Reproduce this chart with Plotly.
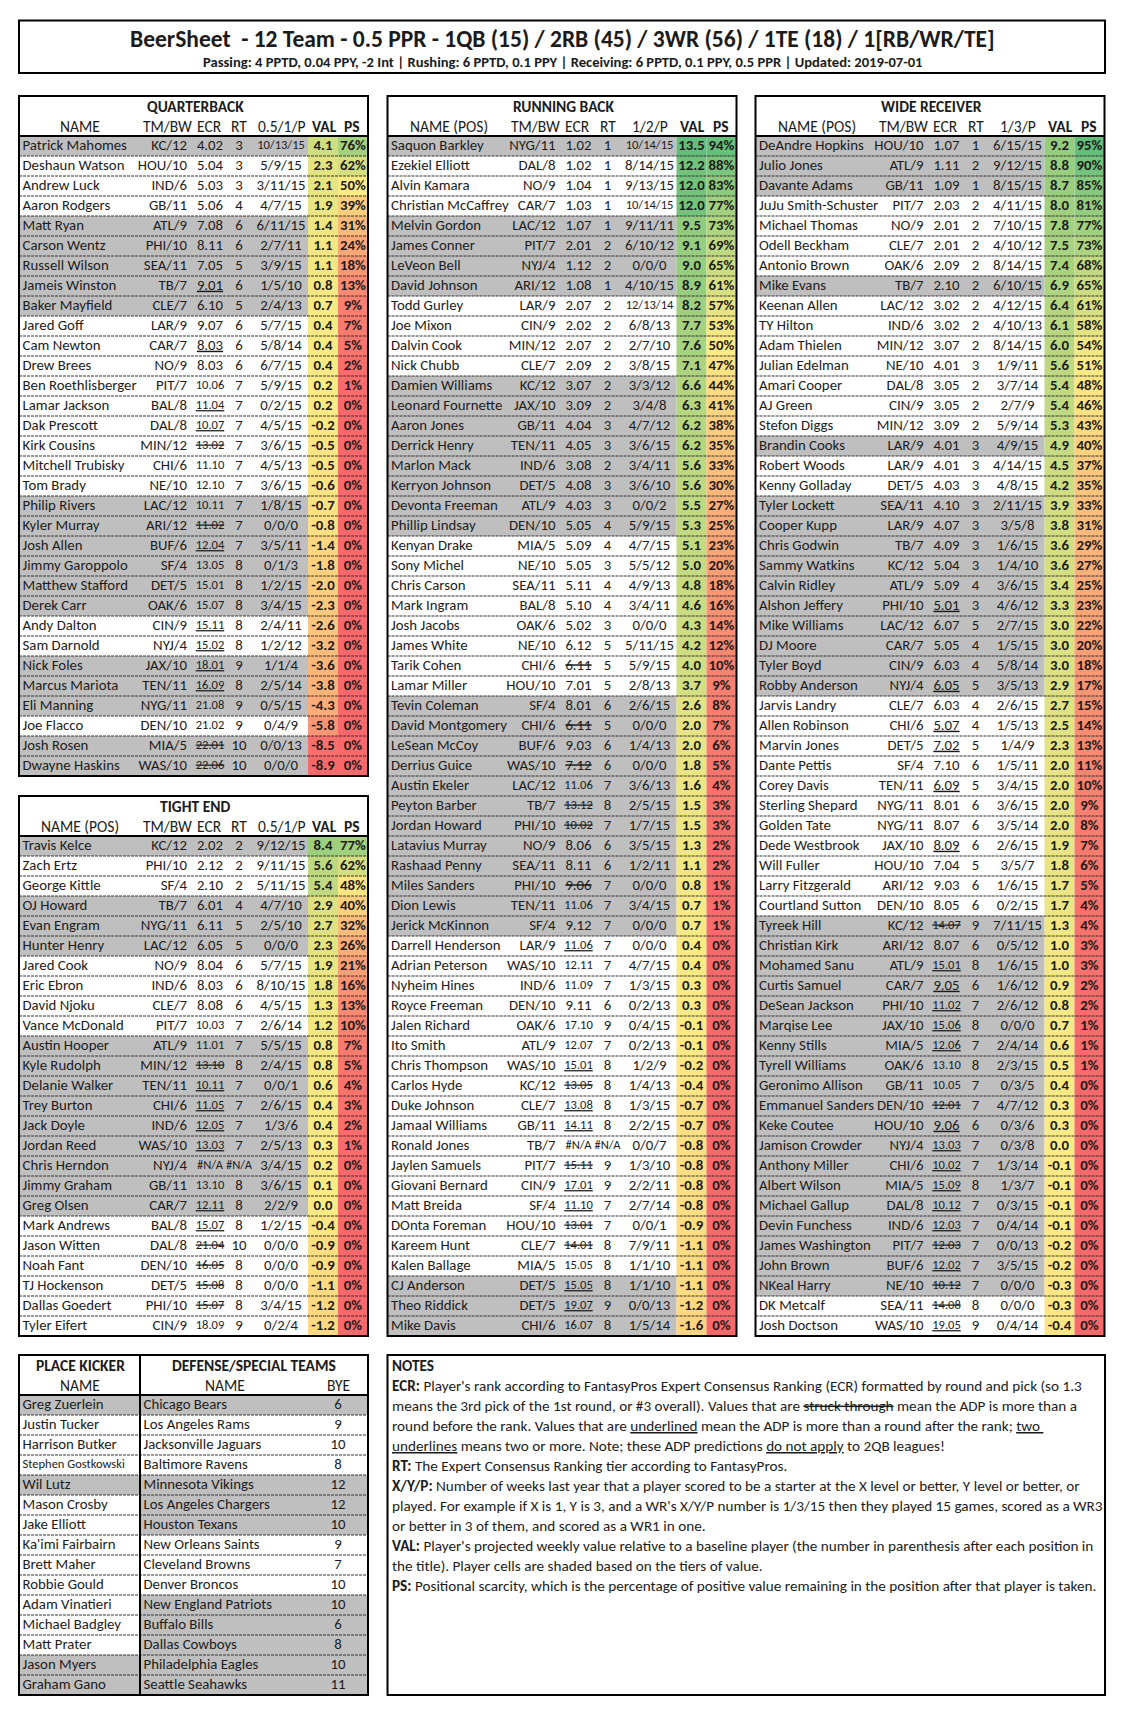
import plotly.graph_objects as go

# ---------------- data ----------------
title_text = "BeerSheet  - 12 Team - 0.5 PPR - 1QB (15) / 2RB (45) / 3WR (56) / 1TE (18) / 1[RB/WR/TE]"
subtitle_text = "Passing: 4 PPTD, 0.04 PPY, -2 Int | Rushing: 6 PPTD, 0.1 PPY | Receiving: 6 PPTD, 0.1 PPY, 0.5 PPR | Updated: 2019-07-01"

# adp flag: n = normal, s = ADP more than a round before rank (struck), u = ADP more than a round after (underlined)
# shaded: 1 = grey row
qb_names = ["Patrick Mahomes", "Deshaun Watson", "Andrew Luck", "Aaron Rodgers", "Matt Ryan", "Carson Wentz",
            "Russell Wilson", "Jameis Winston", "Baker Mayfield", "Jared Goff", "Cam Newton", "Drew Brees",
            "Ben Roethlisberger", "Lamar Jackson", "Dak Prescott", "Kirk Cousins", "Mitchell Trubisky", "Tom Brady",
            "Philip Rivers", "Kyler Murray", "Josh Allen", "Jimmy Garoppolo", "Matthew Stafford", "Derek Carr",
            "Andy Dalton", "Sam Darnold", "Nick Foles", "Marcus Mariota", "Eli Manning", "Joe Flacco", "Josh Rosen",
            "Dwayne Haskins"]
qb_teams = ["KC/12", "HOU/10", "IND/6", "GB/11", "ATL/9", "PHI/10", "SEA/11", "TB/7", "CLE/7", "LAR/9", "CAR/7",
            "NO/9", "PIT/7", "BAL/8", "DAL/8", "MIN/12", "CHI/6", "NE/10", "LAC/12", "ARI/12", "BUF/6", "SF/4",
            "DET/5", "OAK/6", "CIN/9", "NYJ/4", "JAX/10", "TEN/11", "NYG/11", "DEN/10", "MIA/5", "WAS/10"]
qb_ecr = ["4.02", "5.04", "5.03", "5.06", "7.08", "8.11", "7.05", "9.01", "6.10", "9.07", "8.03", "8.03", "10.06",
          "11.04", "10.07", "13.02", "11.10", "12.10", "10.11", "11.02", "12.04", "13.05", "15.01", "15.07", "15.11",
          "15.02", "18.01", "16.09", "21.08", "21.02", "22.01", "22.06"]
qb_adp = list("nnnnnnnu" "nnunnuus" "nnnsunnn" "uuuunnss")
qb_tier = ["3", "3", "3", "4", "6", "6", "5", "6", "5", "6", "6", "6", "7", "7", "7", "7", "7", "7", "7", "7", "7",
           "8", "8", "8", "8", "8", "9", "8", "9", "9", "10", "10"]
qb_xyp = ["10/13/15", "5/9/15", "3/11/15", "4/7/15", "6/11/15", "2/7/11", "3/9/15", "1/5/10", "2/4/13", "5/7/15",
          "5/8/14", "6/7/15", "5/9/15", "0/2/15", "4/5/15", "3/6/15", "4/5/13", "3/6/15", "1/8/15", "0/0/0",
          "3/5/11", "0/1/3", "1/2/15", "3/4/15", "2/4/11", "1/2/12", "1/1/4", "2/5/14", "0/5/15", "0/4/9",
          "0/0/13", "0/0/0"]
qb_val = [4.1, 2.3, 2.1, 1.9, 1.4, 1.1, 1.1, 0.8, 0.7, 0.4, 0.4, 0.4, 0.2, 0.2, -0.2, -0.5, -0.5, -0.6, -0.7, -0.8,
          -1.4, -1.8, -2.0, -2.3, -2.6, -3.2, -3.6, -3.8, -4.3, -5.8, -8.5, -8.9]
qb_ps = [76, 62, 50, 39, 31, 24, 18, 13, 9, 7, 5, 2, 1, 0, 0, 0, 0, 0, 0, 0, 0, 0, 0, 0, 0, 0, 0, 0, 0, 0, 0, 0]
qb_shaded = list("10001111" "10000000" "00111111" "00111011")

te_names = ["Travis Kelce", "Zach Ertz", "George Kittle", "OJ Howard", "Evan Engram", "Hunter Henry", "Jared Cook",
            "Eric Ebron", "David Njoku", "Vance McDonald", "Austin Hooper", "Kyle Rudolph", "Delanie Walker",
            "Trey Burton", "Jack Doyle", "Jordan Reed", "Chris Herndon", "Jimmy Graham", "Greg Olsen", "Mark Andrews",
            "Jason Witten", "Noah Fant", "TJ Hockenson", "Dallas Goedert", "Tyler Eifert"]
te_teams = ["KC/12", "PHI/10", "SF/4", "TB/7", "NYG/11", "LAC/12", "NO/9", "IND/6", "CLE/7", "PIT/7", "ATL/9",
            "MIN/12", "TEN/11", "CHI/6", "IND/6", "WAS/10", "NYJ/4", "GB/11", "CAR/7", "BAL/8", "DAL/8", "DEN/10",
            "DET/5", "PHI/10", "CIN/9"]
te_ecr = ["2.02", "2.12", "2.10", "6.01", "6.11", "6.05", "8.04", "8.03", "8.08", "10.03", "11.01", "13.10", "10.11",
          "11.05", "12.05", "13.03", "#N/A", "13.10", "12.11", "15.07", "21.04", "16.05", "15.08", "15.07", "18.09"]
te_adp = list("nnnnnnnn" "nnnsuuuu" "nnuussss" "n")
te_tier = ["2", "2", "2", "4", "5", "5", "6", "6", "6", "7", "7", "8", "7", "7", "7", "7", "#N/A", "8", "8", "8",
           "10", "8", "8", "8", "9"]
te_xyp = ["9/12/15", "9/11/15", "5/11/15", "4/7/10", "2/5/10", "0/0/0", "5/7/15", "8/10/15", "4/5/15", "2/6/14",
          "5/5/15", "2/4/15", "0/0/1", "2/6/15", "1/3/6", "2/5/13", "3/4/15", "3/6/15", "2/2/9", "1/2/15", "0/0/0",
          "0/0/0", "0/0/0", "3/4/15", "0/2/4"]
te_val = [8.4, 5.6, 5.4, 2.9, 2.7, 2.3, 1.9, 1.8, 1.3, 1.2, 0.8, 0.8, 0.6, 0.4, 0.4, 0.3, 0.2, 0.1, 0.0, -0.4, -0.9,
          -0.9, -1.1, -1.2, -1.2]
te_ps = [77, 62, 48, 40, 32, 26, 21, 16, 13, 10, 7, 5, 4, 3, 2, 1, 0, 0, 0, 0, 0, 0, 0, 0, 0]
te_shaded = list("10011100" "00111111" "11100000" "0")

rb_names = ["Saquon Barkley", "Ezekiel Elliott", "Alvin Kamara", "Christian McCaffrey", "Melvin Gordon",
            "James Conner", "LeVeon Bell", "David Johnson", "Todd Gurley", "Joe Mixon", "Dalvin Cook", "Nick Chubb",
            "Damien Williams", "Leonard Fournette", "Aaron Jones", "Derrick Henry", "Marlon Mack", "Kerryon Johnson",
            "Devonta Freeman", "Phillip Lindsay", "Kenyan Drake", "Sony Michel", "Chris Carson", "Mark Ingram",
            "Josh Jacobs", "James White", "Tarik Cohen", "Lamar Miller", "Tevin Coleman", "David Montgomery",
            "LeSean McCoy", "Derrius Guice", "Austin Ekeler", "Peyton Barber", "Jordan Howard", "Latavius Murray",
            "Rashaad Penny", "Miles Sanders", "Dion Lewis", "Jerick McKinnon", "Darrell Henderson",
            "Adrian Peterson", "Nyheim Hines", "Royce Freeman", "Jalen Richard", "Ito Smith", "Chris Thompson",
            "Carlos Hyde", "Duke Johnson", "Jamaal Williams", "Ronald Jones", "Jaylen Samuels", "Giovani Bernard",
            "Matt Breida", "DOnta Foreman", "Kareem Hunt", "Kalen Ballage", "CJ Anderson", "Theo Riddick",
            "Mike Davis"]
rb_teams = ["NYG/11", "DAL/8", "NO/9", "CAR/7", "LAC/12", "PIT/7", "NYJ/4", "ARI/12", "LAR/9", "CIN/9", "MIN/12",
            "CLE/7", "KC/12", "JAX/10", "GB/11", "TEN/11", "IND/6", "DET/5", "ATL/9", "DEN/10", "MIA/5", "NE/10",
            "SEA/11", "BAL/8", "OAK/6", "NE/10", "CHI/6", "HOU/10", "SF/4", "CHI/6", "BUF/6", "WAS/10", "LAC/12",
            "TB/7", "PHI/10", "NO/9", "SEA/11", "PHI/10", "TEN/11", "SF/4", "LAR/9", "WAS/10", "IND/6", "DEN/10",
            "OAK/6", "ATL/9", "WAS/10", "KC/12", "CLE/7", "GB/11", "TB/7", "PIT/7", "CIN/9", "SF/4", "HOU/10",
            "CLE/7", "MIA/5", "DET/5", "DET/5", "CHI/6"]
rb_ecr = ["1.02", "1.02", "1.04", "1.03", "1.07", "2.01", "1.12", "1.08", "2.07", "2.02", "2.07", "2.09", "3.07",
          "3.09", "4.04", "4.05", "3.08", "4.08", "4.03", "5.05", "5.09", "5.05", "5.11", "5.10", "5.02", "6.12",
          "6.11", "7.01", "8.01", "6.11", "9.03", "7.12", "11.06", "13.12", "10.02", "8.06", "8.11", "9.06", "11.06",
          "9.12", "11.06", "12.11", "11.09", "9.11", "17.10", "12.07", "15.01", "13.05", "13.08", "14.11", "#N/A",
          "15.11", "17.01", "11.10", "13.01", "14.01", "15.05", "15.05", "19.07", "16.07"]
rb_adp = list("nnnnnnnn" "nnnnnnnn" "nnnnnnnn" "nnsnnsns" "nssnnsnn" "unnnnnus" "uunsuuss" "nuun")
rb_tier = ["1", "1", "1", "1", "1", "2", "2", "1", "2", "2", "2", "2", "2", "2", "3", "3", "2", "3", "3", "4", "4",
           "3", "4", "4", "3", "5", "5", "5", "6", "5", "6", "6", "7", "8", "7", "6", "6", "7", "7", "7", "7", "7",
           "7", "6", "9", "7", "8", "8", "8", "8", "#N/A", "9", "9", "7", "7", "8", "8", "8", "9", "8"]
rb_xyp = ["10/14/15", "8/14/15", "9/13/15", "10/14/15", "9/11/11", "6/10/12", "0/0/0", "4/10/15", "12/13/14",
          "6/8/13", "2/7/10", "3/8/15", "3/3/12", "3/4/8", "4/7/12", "3/6/15", "3/4/11", "3/6/10", "0/0/2",
          "5/9/15", "4/7/15", "5/5/12", "4/9/13", "3/4/11", "0/0/0", "5/11/15", "5/9/15", "2/8/13", "2/6/15",
          "0/0/0", "1/4/13", "0/0/0", "3/6/13", "2/5/15", "1/7/15", "3/5/15", "1/2/11", "0/0/0", "3/4/15", "0/0/0",
          "0/0/0", "4/7/15", "1/3/15", "0/2/13", "0/4/15", "0/2/13", "1/2/9", "1/4/13", "1/3/15", "2/2/15", "0/0/7",
          "1/3/10", "2/2/11", "2/7/14", "0/0/1", "7/9/11", "1/1/10", "1/1/10", "0/0/13", "1/5/14"]
rb_val = [13.5, 12.2, 12.0, 12.0, 9.5, 9.1, 9.0, 8.9, 8.2, 7.7, 7.6, 7.1, 6.6, 6.3, 6.2, 6.2, 5.6, 5.6, 5.5, 5.3,
          5.1, 5.0, 4.8, 4.6, 4.3, 4.2, 4.0, 3.7, 2.6, 2.0, 2.0, 1.8, 1.6, 1.5, 1.5, 1.3, 1.1, 0.8, 0.7, 0.7, 0.4,
          0.4, 0.3, 0.3, -0.1, -0.1, -0.2, -0.4, -0.7, -0.7, -0.8, -0.8, -0.8, -0.8, -0.9, -1.1, -1.1, -1.1, -1.2,
          -1.6]
rb_ps = [94, 88, 83, 77, 73, 69, 65, 61, 57, 53, 50, 47, 44, 41, 38, 35, 33, 30, 27, 25, 23, 20, 18, 16, 14, 12, 10,
         9, 8, 7, 6, 5, 4, 3, 3, 2, 2, 1, 1, 1, 0, 0, 0, 0, 0, 0, 0, 0, 0, 0, 0, 0, 0, 0, 0, 0, 0, 0, 0, 0]
rb_shaded = list("10001111" "00001111" "11110000" "00001111" "11111111" "00000000" "00000000" "0111")

wr_names = ["DeAndre Hopkins", "Julio Jones", "Davante Adams", "JuJu Smith-Schuster", "Michael Thomas",
            "Odell Beckham", "Antonio Brown", "Mike Evans", "Keenan Allen", "TY Hilton", "Adam Thielen",
            "Julian Edelman", "Amari Cooper", "AJ Green", "Stefon Diggs", "Brandin Cooks", "Robert Woods",
            "Kenny Golladay", "Tyler Lockett", "Cooper Kupp", "Chris Godwin", "Sammy Watkins", "Calvin Ridley",
            "Alshon Jeffery", "Mike Williams", "DJ Moore", "Tyler Boyd", "Robby Anderson", "Jarvis Landry",
            "Allen Robinson", "Marvin Jones", "Dante Pettis", "Corey Davis", "Sterling Shepard", "Golden Tate",
            "Dede Westbrook", "Will Fuller", "Larry Fitzgerald", "Courtland Sutton", "Tyreek Hill", "Christian Kirk",
            "Mohamed Sanu", "Curtis Samuel", "DeSean Jackson", "Marqise Lee", "Kenny Stills", "Tyrell Williams",
            "Geronimo Allison", "Emmanuel Sanders", "Keke Coutee", "Jamison Crowder", "Anthony Miller",
            "Albert Wilson", "Michael Gallup", "Devin Funchess", "James Washington", "John Brown", "NKeal Harry",
            "DK Metcalf", "Josh Doctson"]
wr_teams = ["HOU/10", "ATL/9", "GB/11", "PIT/7", "NO/9", "CLE/7", "OAK/6", "TB/7", "LAC/12", "IND/6", "MIN/12",
            "NE/10", "DAL/8", "CIN/9", "MIN/12", "LAR/9", "LAR/9", "DET/5", "SEA/11", "LAR/9", "TB/7", "KC/12",
            "ATL/9", "PHI/10", "LAC/12", "CAR/7", "CIN/9", "NYJ/4", "CLE/7", "CHI/6", "DET/5", "SF/4", "TEN/11",
            "NYG/11", "NYG/11", "JAX/10", "HOU/10", "ARI/12", "DEN/10", "KC/12", "ARI/12", "ATL/9", "CAR/7",
            "PHI/10", "JAX/10", "MIA/5", "OAK/6", "GB/11", "DEN/10", "HOU/10", "NYJ/4", "CHI/6", "MIA/5", "DAL/8",
            "IND/6", "PIT/7", "BUF/6", "NE/10", "SEA/11", "WAS/10"]
wr_ecr = ["1.07", "1.11", "1.09", "2.03", "2.01", "2.01", "2.09", "2.10", "3.02", "3.02", "3.07", "4.01", "3.05",
          "3.05", "3.09", "4.01", "4.01", "4.03", "4.10", "4.07", "4.09", "5.04", "5.09", "5.01", "6.07", "5.05",
          "6.03", "6.05", "6.03", "5.07", "7.02", "7.10", "6.09", "8.01", "8.07", "8.09", "7.04", "9.03", "8.05",
          "14.07", "8.07", "15.01", "9.05", "11.02", "15.06", "12.06", "13.10", "10.05", "12.01", "9.06", "13.03",
          "10.02", "15.09", "10.12", "12.03", "12.03", "12.02", "10.12", "14.08", "19.05"]
wr_adp = list("nnnnnnnn" "nnnnnnnn" "nnnnnnnu" "nnnunuun" "unnunnns" "nuuuuunn" "suuuuuus" "ussu")
wr_tier = ["1", "2", "1", "2", "2", "2", "2", "2", "2", "2", "2", "3", "2", "2", "2", "3", "3", "3", "3", "3", "3",
           "3", "4", "3", "5", "4", "4", "5", "4", "4", "5", "6", "5", "6", "6", "6", "5", "6", "6", "9", "6", "8",
           "6", "7", "8", "7", "8", "7", "7", "6", "7", "7", "8", "7", "7", "7", "7", "7", "8", "9"]
wr_xyp = ["6/15/15", "9/12/15", "8/15/15", "4/11/15", "7/10/15", "4/10/12", "8/14/15", "6/10/15", "4/12/15",
          "4/10/13", "8/14/15", "1/9/11", "3/7/14", "2/7/9", "5/9/14", "4/9/15", "4/14/15", "4/8/15", "2/11/15",
          "3/5/8", "1/6/15", "1/4/10", "3/6/15", "4/6/12", "2/7/15", "1/5/15", "5/8/14", "3/5/13", "2/6/15",
          "1/5/13", "1/4/9", "1/5/11", "3/4/15", "3/6/15", "3/5/14", "2/6/15", "3/5/7", "1/6/15", "0/2/15",
          "7/11/15", "0/5/12", "1/6/15", "1/6/12", "2/6/12", "0/0/0", "2/4/14", "2/3/15", "0/3/5", "4/7/12",
          "0/3/6", "0/3/8", "1/3/14", "1/3/7", "0/3/15", "0/4/14", "0/0/13", "3/5/15", "0/0/0", "0/0/0", "0/4/14"]
wr_val = [9.2, 8.8, 8.7, 8.0, 7.8, 7.5, 7.4, 6.9, 6.4, 6.1, 6.0, 5.6, 5.4, 5.4, 5.3, 4.9, 4.5, 4.2, 3.9, 3.8, 3.6,
          3.6, 3.4, 3.3, 3.0, 3.0, 3.0, 2.9, 2.7, 2.5, 2.3, 2.0, 2.0, 2.0, 2.0, 1.9, 1.8, 1.7, 1.7, 1.3, 1.0, 1.0,
          0.9, 0.8, 0.7, 0.6, 0.5, 0.4, 0.3, 0.3, 0.0, -0.1, -0.1, -0.1, -0.1, -0.2, -0.2, -0.3, -0.3, -0.4]
wr_ps = [95, 90, 85, 81, 77, 73, 68, 65, 61, 58, 54, 51, 48, 46, 43, 40, 37, 35, 33, 31, 29, 27, 25, 23, 22, 20, 18,
         17, 15, 14, 13, 11, 10, 9, 8, 7, 6, 5, 4, 4, 3, 3, 2, 2, 1, 1, 1, 0, 0, 0, 0, 0, 0, 0, 0, 0, 0, 0, 0, 0]
wr_shaded = list("11100001" "00000001" "00111111" "11110000" "00000001" "11111111" "11111111" "1100")

k_names = ["Greg Zuerlein", "Justin Tucker", "Harrison Butker", "Stephen Gostkowski", "Wil Lutz", "Mason Crosby",
           "Jake Elliott", "Ka'imi Fairbairn", "Brett Maher", "Robbie Gould", "Adam Vinatieri", "Michael Badgley",
           "Matt Prater", "Jason Myers", "Graham Gano"]
k_shaded = list("100010000000011")
dst_names = ["Chicago Bears", "Los Angeles Rams", "Jacksonville Jaguars", "Baltimore Ravens", "Minnesota Vikings",
             "Los Angeles Chargers", "Houston Texans", "New Orleans Saints", "Cleveland Browns", "Denver Broncos",
             "New England Patriots", "Buffalo Bills", "Dallas Cowboys", "Philadelphia Eagles", "Seattle Seahawks"]
dst_bye = [6, 9, 10, 8, 12, 12, 10, 9, 7, 10, 10, 6, 8, 10, 11]
dst_shaded = list("100011100011111")

notes_lines = [
    "<b>NOTES</b>",
    "<b>ECR:</b> Player's rank according to FantasyPros Expert Consensus Ranking (ECR) formatted by round and pick (so 1.3",
    "means the 3rd pick of the 1st round, or #3 overall). Values that are <s>struck through</s> mean the ADP is more than a",
    "round before the rank. Values that are <u>underlined</u> mean the ADP is more than a round after the rank; <u>two </u>",
    "<u>underlines</u> means two or more. Note; these ADP predictions <u>do not apply</u> to 2QB leagues!",
    "<b>RT:</b> The Expert Consensus Ranking tier according to FantasyPros.",
    "<b>X/Y/P:</b> Number of weeks last year that a player scored to be a starter at the X level or better, Y level or better, or",
    "played. For example if X is 1, Y is 3, and a WR's X/Y/P number is 1/3/15 then they played 15 games, scored as a WR3",
    "or better in 3 of them, and scored as a WR1 in one.",
    "<b>VAL:</b> Player's projected weekly value relative to a baseline player (the number in parenthesis after each position in",
    "the title). Player cells are shaded based on the tiers of value.",
    "<b>PS:</b> Positional scarcity, which is the percentage of positive value remaining in the position after that player is taken.",
]

# ---------------- style ----------------
FONT = "Carlito, Lato, sans-serif"
INK = "#1b1b1b"
GRAY = "#bfbfbf"
ROW_H = 20
TABLE_W = 349
VAL_X0, PS_X0 = 289, 319
COL_X = {"name": 3.5, "team": 168, "ecr": 191, "rt": 220, "xyp": 262, "val": 304, "ps": 334}
BASE = 14.8
SMALL = 12.5
HEAD = 15.5
RED, YELLOW, GREEN = (248, 105, 107), (255, 235, 132), (99, 190, 123)


def three_color(v, lo, mid, hi):
    if v <= mid:
        t, c0, c1 = (v - lo) / (mid - lo), RED, YELLOW
    else:
        t, c0, c1 = (v - mid) / (hi - mid), YELLOW, GREEN
    t = min(max(t, 0), 1)
    return "rgb(%d,%d,%d)" % tuple(round(a + (b - a) * t) for a, b in zip(c0, c1))


all_val = qb_val + te_val + rb_val + wr_val
all_ps = qb_ps + te_ps + rb_ps + wr_ps
val_lo, val_hi = min(all_val), max(all_val)
ps_hi = max(all_ps)

fig = go.Figure()
shapes = []
annotations = []


def text_trace(x, y, text, position, size=BASE, weight="normal"):
    return go.Scatter(x=x, y=y, text=text, mode="text", textposition=position,
                      textfont=dict(family=FONT, size=size, color=INK, weight=weight),
                      hoverinfo="skip", cliponaxis=False)


def bar_trace(y, base, length, colors):
    return go.Bar(orientation="h", y=y, x=length, base=base, width=ROW_H,
                  marker=dict(color=colors, line=dict(width=0)), hoverinfo="skip")


def dashed_rows(x0, x1, top, n):
    xs, ys = [], []
    for i in range(1, n):
        xs += [x0, x1, None]
        ys += [top + i * ROW_H, top + i * ROW_H, None]
    return go.Scatter(x=xs, y=ys, mode="lines", hoverinfo="skip",
                      line=dict(color="#333333", width=1, dash="3px,1px"))


def label(x, y, text, size=HEAD, bold=False, anchor="center"):
    annotations.append(dict(x=x, y=y, xref="x", yref="y", text=f"<b>{text}</b>" if bold else text,
                            showarrow=False, xanchor=anchor, yanchor="middle",
                            font=dict(family=FONT, size=size, color=INK)))


def box(x0, y0, x1, y1):
    shapes.append(dict(type="rect", xref="x", yref="y", x0=x0, y0=y0, x1=x1, y1=y1,
                       line=dict(color="black", width=2), layer="above"))


def hline(x0, x1, y):
    shapes.append(dict(type="line", xref="x", yref="y", x0=x0, x1=x1, y0=y, y1=y,
                       line=dict(color="black", width=2), layer="above"))


def add_position_table(left, top, title, name_hdr, xyp_hdr, names, teams, ecr, adp, tier, xyp, val, ps, shaded):
    n = len(names)
    data_top = top + 2 * ROW_H
    yc = [data_top + ROW_H * (i + 0.5) for i in range(n)]
    fig.add_trace(bar_trace(yc, [left] * n, [VAL_X0] * n, [GRAY if s == "1" else "white" for s in shaded]))
    fig.add_trace(bar_trace(yc, [left + VAL_X0] * n, [PS_X0 - VAL_X0] * n,
                            [three_color(v, val_lo, 0, val_hi) for v in val]))
    fig.add_trace(bar_trace(yc, [left + PS_X0] * n, [TABLE_W - PS_X0] * n,
                            [three_color(p, 0, 50, ps_hi) for p in ps]))
    fig.add_trace(dashed_rows(left, left + TABLE_W, data_top, n))

    def col(key):
        return [left + COL_X[key]] * n

    ecr_txt = [f"<s>{e}</s>" if a == "s" else f"<u>{e}</u>" if a == "u" else e for e, a in zip(ecr, adp)]
    fig.add_trace(text_trace(col("name"), yc, names, "middle right"))
    fig.add_trace(text_trace(col("team"), yc, teams, "middle left"))
    fig.add_trace(text_trace(col("ecr"), yc, ecr_txt, "middle center",
                             size=[SMALL if len(e) > 4 or e.startswith("#") else BASE for e in ecr]))
    fig.add_trace(text_trace(col("rt"), yc, tier, "middle center",
                             size=[SMALL if t.startswith("#") else BASE for t in tier]))
    fig.add_trace(text_trace(col("xyp"), yc, xyp, "middle center",
                             size=[SMALL if len(s) >= 8 else BASE for s in xyp]))
    fig.add_trace(text_trace(col("val"), yc, [f"{v:.1f}" for v in val], "middle center", weight="bold"))
    fig.add_trace(text_trace(col("ps"), yc, [f"{p}%" for p in ps], "middle center", weight="bold"))

    label(left + 176, top + 10, title, bold=True)
    hy = top + 30
    label(left + 61, hy, name_hdr)
    label(left + 148, hy, "TM/BW")
    label(left + 190, hy, "ECR")
    label(left + 220, hy, "RT")
    label(left + 262, hy, xyp_hdr)
    label(left + 305, hy, "VAL", bold=True)
    label(left + 333, hy, "PS", bold=True)
    box(left, top, left + TABLE_W, data_top + n * ROW_H)
    hline(left, left + TABLE_W, data_top)


# title block
box(19, 20.5, 1105, 73)
label(562, 38.5, title_text, size=23.5, bold=True)
label(562, 62, subtitle_text, size=14.6, bold=True)

add_position_table(19, 96, "QUARTERBACK", "NAME", "0.5/1/P", qb_names, qb_teams, qb_ecr, qb_adp, qb_tier,
                   qb_xyp, qb_val, qb_ps, qb_shaded)
add_position_table(19, 796, "TIGHT END", "NAME (POS)", "0.5/1/P", te_names, te_teams, te_ecr, te_adp, te_tier,
                   te_xyp, te_val, te_ps, te_shaded)
add_position_table(387.5, 96, "RUNNING BACK", "NAME (POS)", "1/2/P", rb_names, rb_teams, rb_ecr, rb_adp, rb_tier,
                   rb_xyp, rb_val, rb_ps, rb_shaded)
add_position_table(755.5, 96, "WIDE RECEIVER", "NAME (POS)", "1/3/P", wr_names, wr_teams, wr_ecr, wr_adp, wr_tier,
                   wr_xyp, wr_val, wr_ps, wr_shaded)

# kicker / defense table
kd_left, kd_top, kd_split = 19, 1355, 140
n_kd = len(k_names)
kd_data_top = kd_top + 2 * ROW_H
yk = [kd_data_top + ROW_H * (i + 0.5) for i in range(n_kd)]
fig.add_trace(bar_trace(yk, [kd_left] * n_kd, [kd_split - kd_left] * n_kd,
                        [GRAY if s == "1" else "white" for s in k_shaded]))
fig.add_trace(bar_trace(yk, [kd_split] * n_kd, [kd_left + TABLE_W - kd_split] * n_kd,
                        [GRAY if s == "1" else "white" for s in dst_shaded]))
fig.add_trace(dashed_rows(kd_left, kd_left + TABLE_W, kd_data_top, n_kd))
fig.add_trace(text_trace([kd_left + 3.5] * n_kd, yk, k_names, "middle right",
                         size=[SMALL if len(s) >= 18 else BASE for s in k_names]))
fig.add_trace(text_trace([kd_split + 3.5] * n_kd, yk, dst_names, "middle right"))
fig.add_trace(text_trace([kd_left + 319] * n_kd, yk, [str(b) for b in dst_bye], "middle center"))
label(80, kd_top + 10, "PLACE KICKER", bold=True)
label(254, kd_top + 10, "DEFENSE/SPECIAL TEAMS", bold=True)
label(80, kd_top + 30, "NAME")
label(225, kd_top + 30, "NAME")
label(kd_left + 319, kd_top + 30, "BYE")
box(kd_left, kd_top, kd_left + TABLE_W, kd_data_top + n_kd * ROW_H)
hline(kd_left, kd_left + TABLE_W, kd_data_top)
shapes.append(dict(type="line", xref="x", yref="y", x0=kd_split, x1=kd_split, y0=kd_top,
                   y1=kd_data_top + n_kd * ROW_H, line=dict(color="black", width=2), layer="above"))

# notes
box(387.5, kd_top, 1105, kd_data_top + n_kd * ROW_H)
for i, line in enumerate(notes_lines):
    label(390, kd_top + 11 + i * ROW_H, line, size=15.2, anchor="left")

fig.update_layout(
    width=1112, height=1700, margin=dict(l=0, r=0, t=0, b=0),
    paper_bgcolor="white", plot_bgcolor="white", showlegend=False, barmode="overlay",
    xaxis=dict(range=[8, 1120], visible=False, fixedrange=True),
    yaxis=dict(range=[1708, 8], visible=False, fixedrange=True),
    shapes=shapes, annotations=annotations,
)
fig.write_html("out.html")
